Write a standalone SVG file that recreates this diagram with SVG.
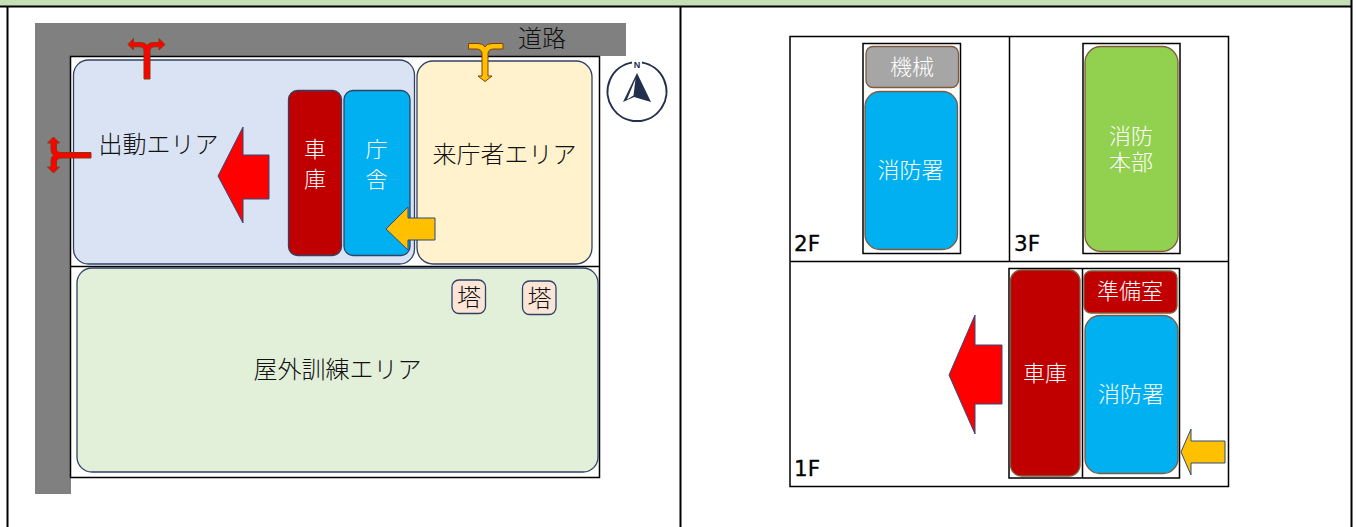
<svg xmlns="http://www.w3.org/2000/svg" width="1356" height="527" viewBox="0 0 1356 527">
<style>
text{font-family:"Noto Sans CJK JP","Noto Sans",sans-serif;font-weight:300;text-anchor:middle}
.b{font-size:24px;fill:#111}
.w{font-size:22px;fill:#fff}
.f{font-family:"DejaVu Sans",sans-serif;font-weight:400;font-size:21.500px;fill:#000;stroke:#000;stroke-width:.3;text-anchor:start}
.area{stroke:#2f4265;stroke-width:1.3}
.room{stroke:#7f5a3c;stroke-width:1.3}
.frame{fill:none;stroke:#000;stroke-width:1.5}
.red{fill:#f00;stroke:#2f4b7c;stroke-width:1}
.org{fill:#ffc000;stroke:#2f4b7c;stroke-width:1}
.tr{fill:#f00;stroke:#843c0c;stroke-width:1}
.to{fill:#ffc000;stroke:#843c0c;stroke-width:1}
</style>
<g id="layout">
<rect x="0" y="0" width="1351" height="6" fill="#c5e0b4"/>
<path d="M0 6.500H1352M7.500 6V527M680.500 6V527M1351.500 0V527" fill="none" stroke="#000" stroke-width="2"/>
</g>
<g id="road">
<path d="M35 23H626V56H71V494H35Z" fill="#808080"/>
<text class="b" x="542" y="47">道路</text>
</g>
<g id="site"><path class="frame" d="M70.500 56.500H599.500V477.500H70.500ZM70.500 266.500H599.500"/></g>
<g id="dispatch-area"><rect class="area" x="73.500" y="60" width="341" height="204" rx="15" fill="#dae3f3"/><text class="b" x="158.500" y="153">出動エリア</text></g>
<g id="visitor-area"><rect class="area" x="417" y="61" width="175" height="203" rx="16" fill="#fff2cc"/><text class="b" x="504.500" y="163">来庁者エリア</text></g>
<g id="training-area"><rect class="area" x="77" y="268" width="521" height="204" rx="15" fill="#e2efd9"/><text class="b" x="337.500" y="378">屋外訓練エリア</text></g>
<g id="garage"><rect class="area" x="288.500" y="90.500" width="53" height="165" rx="9" fill="#c00000"/><text class="w"><tspan x="315" y="157">車</tspan><tspan x="315" y="187">庫</tspan></text></g>
<g id="office"><rect class="area" x="344" y="90.500" width="66" height="165" rx="9" fill="#00b0f0"/><text class="w"><tspan x="376.500" y="157">庁</tspan><tspan x="376.500" y="187">舎</tspan></text></g>
<g id="tower1"><rect class="area" x="452" y="280" width="33.500" height="33.500" rx="7" fill="#fbe5d6"/><text class="b" x="469" y="305.500">塔</text></g>
<g id="tower2"><rect class="area" x="522.500" y="281" width="33.500" height="33.500" rx="7" fill="#fbe5d6"/><text class="b" x="539.500" y="306.500">塔</text></g>
<g id="compass">
<path d="M632 62.500A29.500 29.500 0 1 0 642 62.500" fill="none" stroke="#222f4d" stroke-width="2"/>
<text x="637" y="67.500" style="font-family:'Liberation Sans',sans-serif;font-weight:700;font-size:9px;fill:#222f4d">N</text>
<path d="M637 73L651 102L634 97L623 102Z" fill="#222f4d"/>
<path d="M635.500 79L627 99.500L633.500 95.500Z" fill="#fff"/>
</g>
<g id="connectors">
<path class="red" d="M269 155H243V127L218 176L243 223V199H269Z"/>
<path class="org" d="M435 218H408V207L386 229L408 250V240H435Z"/>
<path class="tr" d="M144 79V51Q144 46.800 139 46.800H133.500V50L128 44.500L133.500 38.500V42.500H141Q145.500 42.500 147 45.500Q148.500 42.500 153 42.500H159V38.500L165 44.500L159 50V46.800H155Q150 46.800 150 51V79Z"/>
<path class="tr" d="M91 152.500V158H62Q56.500 158 56.500 162V167H59.500L53.500 173L47.500 167H51V160Q51 156.500 54 155.300Q51 154 51 150V143H47.500L53.500 137L59.500 143H56.500V149Q56.500 152.500 61 152.500Z"/>
<path class="to" d="M468.500 43.500H478Q483.500 43.500 485 47Q486.500 43.500 492 43.500H503V49H494Q488 49 488 54V76H492L485 81.500L478 76H482V54Q482 49 476 49H468.500Z"/>
<path class="red" d="M1002 345H975V315L949 375L975 434V404H1002Z"/>
<path class="org" d="M1225 441H1191V429L1181 452L1191 475V463H1225Z"/>
</g>
<g id="floors"><path class="frame" d="M790 36.500H1228.500V486.500H790ZM790 261.500H1228.500M1009.500 36.500V261.500"/>
<text class="f" x="794" y="251">2F</text><text class="f" x="1014" y="251">3F</text><text class="f" x="794" y="475.500">1F</text></g>
<g id="floor2-outline"><rect class="frame" x="863" y="43.500" width="97.500" height="210"/></g>
<g id="machine"><rect class="room" x="866" y="46.500" width="92.500" height="41" rx="7" fill="#a6a6a6"/><text class="w" x="912" y="75">機械</text></g>
<g id="station2"><rect class="room" x="865" y="91.500" width="92.500" height="158" rx="15" fill="#00b0f0"/><text class="w" x="910.500" y="178">消防署</text></g>
<g id="floor3-outline"><rect class="frame" x="1083" y="43.500" width="97" height="210"/></g>
<g id="hq"><rect class="room" x="1085" y="46.500" width="93" height="205" rx="16" fill="#92d050"/><text class="w"><tspan x="1131" y="144">消防</tspan><tspan x="1131" y="170">本部</tspan></text></g>
<g id="floor1-outline"><path class="frame" d="M1009 268.500H1179.500V478H1009ZM1082.500 268.500V478"/></g>
<g id="garage1"><rect class="room" x="1010.500" y="270" width="69.500" height="206" rx="11" fill="#c00000"/><text class="w" x="1045" y="381">車庫</text></g>
<g id="prep"><rect class="room" x="1084" y="271" width="93" height="42" rx="7" fill="#c00000"/><text class="w" x="1130" y="299">準備室</text></g>
<g id="station1"><rect class="room" x="1085" y="315.500" width="93" height="158" rx="15" fill="#00b0f0"/><text class="w" x="1131" y="402">消防署</text></g>
</svg>
